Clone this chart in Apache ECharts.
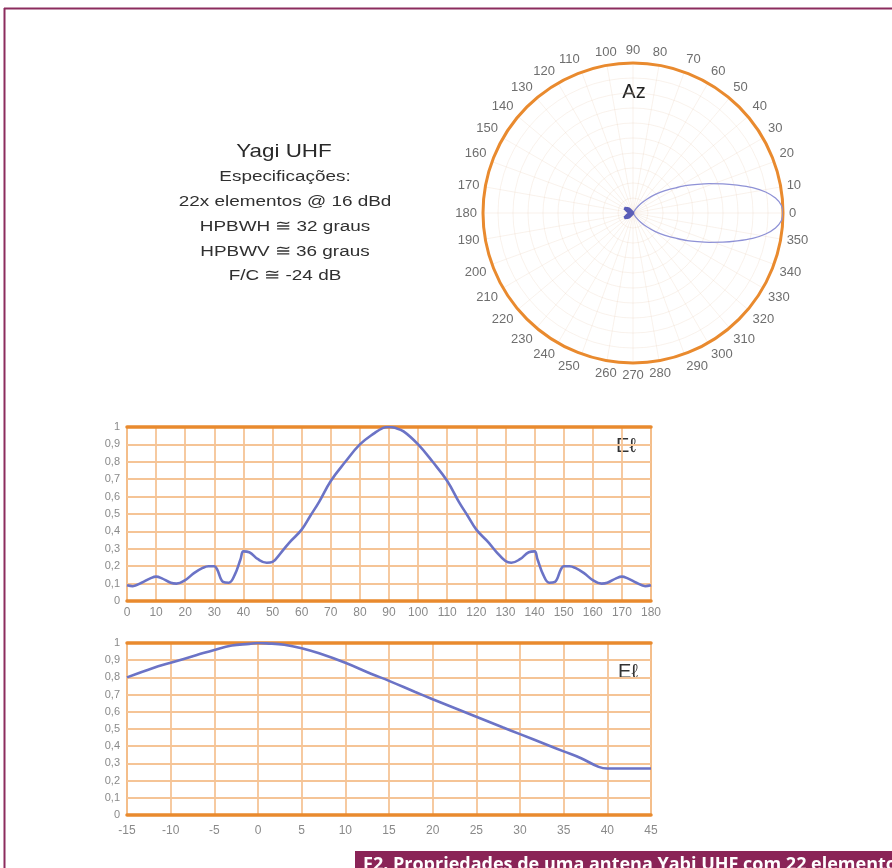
<!DOCTYPE html>
<html>
<head>
<meta charset="utf-8">
<script src="https://cdn.jsdelivr.net/npm/echarts@6/dist/echarts.min.js"></script>
<style>
  html, body { margin: 0; padding: 0; background: #ffffff; }
  #chart { width: 892px; height: 868px; }
</style>
</head>
<body>
<div id="chart"></div>
<script>
// Azimuth pattern: main lobe (angle in degrees, relative field strength)
const lobeAngle = [60, 55, 50, 45, 40, 35, 30, 27, 24, 21, 18, 15, 12, 9, 6, 3, 0,
                   357, 354, 351, 348, 345, 342, 339, 336, 333, 330, 325, 320, 315, 310, 305, 300];
const lobeGain  = [0, 0.035, 0.08, 0.13, 0.19, 0.26, 0.34, 0.405, 0.47, 0.545, 0.63, 0.72, 0.815, 0.895, 0.955, 0.99, 1.0,
                   0.99, 0.955, 0.895, 0.815, 0.72, 0.63, 0.545, 0.47, 0.405, 0.34, 0.26, 0.19, 0.13, 0.08, 0.035, 0];
// Azimuth pattern: back lobes
const backAngle = [120, 135, 150, 165, 180, 195, 210, 225, 240];
const backGain  = [0, 0.04, 0.065, 0.03, 0, 0.03, 0.065, 0.04, 0];

// Elevation pattern 0..180 degrees
const elevAngle = [0, 2, 5, 8, 10, 12, 15, 17, 20, 23, 26, 28, 30, 31, 33, 35, 37, 39, 40, 42, 45, 48, 50, 53, 56,
                   60, 63, 66, 70, 75, 80, 85, 88, 90, 92, 95, 100, 105, 110, 114, 117, 120, 124, 127, 130, 132,
                   135, 138, 140, 141, 143, 145, 147, 149, 150, 152, 154, 157, 160, 163, 165, 168, 170, 172, 175, 178, 180];
const elevGain  = [0.09, 0.085, 0.105, 0.13, 0.14, 0.13, 0.105, 0.10, 0.12, 0.16, 0.19, 0.20, 0.20, 0.18, 0.11, 0.105, 0.15, 0.24, 0.285, 0.28, 0.24, 0.22, 0.225, 0.28, 0.34,
                   0.41, 0.49, 0.57, 0.69, 0.80, 0.90, 0.965, 0.995, 1.0, 0.995, 0.975, 0.90, 0.80, 0.69, 0.57, 0.49, 0.41, 0.34, 0.28, 0.23, 0.22,
                   0.24, 0.28, 0.285, 0.24, 0.15, 0.105, 0.11, 0.18, 0.20, 0.20, 0.19, 0.16, 0.12, 0.10, 0.105, 0.13, 0.14, 0.13, 0.105, 0.085, 0.09];

// Vertical tilt pattern -15..45 degrees
const tiltAngle = [-15, -12, -10, -7, -5, -3, -1, 0, 1, 3, 5, 7, 10, 13, 15, 18, 20, 23, 25, 28, 30, 33, 35, 37, 39, 40, 42, 45];
const tiltGain  = [0.80, 0.855, 0.885, 0.93, 0.96, 0.985, 0.995, 1.0, 0.998, 0.99, 0.97, 0.94, 0.885, 0.82, 0.78, 0.715, 0.673,
                   0.612, 0.571, 0.51, 0.47, 0.41, 0.37, 0.33, 0.28, 0.27, 0.27, 0.27];

// Tick labels
const yTickLabels = ['0', '0,1', '0,2', '0,3', '0,4', '0,5', '0,6', '0,7', '0,8', '0,9', '1'];

// Specification lines
const specTitle = 'Yagi UHF';
const specLines = ['Especificações:', '22x elementos @ 16 dBd', 'HPBWH ≅ 32 graus', 'HPBWV ≅ 36 graus', 'F/C ≅ -24 dB'];
const captionText = 'F2. Propriedades de uma antena Yabi UHF com 22 elementos';

const ORANGE = '#e98a2e';
const GRIDLINE = '#f5c496';
const LINE = '#6b73c6';
const LABEL = '#8a8a8a';
const FONT = '"Liberation Sans", Arial, sans-serif';
const POLAR_GRID = 'rgba(232,205,180,0.26)';

const chart = echarts.init(document.getElementById('chart'), null, { renderer: 'canvas' });

function pairs(xs, ys) { return xs.map((x, i) => [x, ys[i]]); }
function polarPairs(angles, gains) { return angles.map((a, i) => [gains[i], a]); }

const yAxisCommon = {
  type: 'value', min: 0, max: 1, interval: 0.1,
  axisLine: { show: false }, axisTick: { show: false },
  axisLabel: { color: LABEL, fontSize: 11, fontFamily: FONT, margin: 7,
               formatter: (v, i) => yTickLabels[i] },
  splitLine: { show: true, lineStyle: { color: GRIDLINE, width: 1.8 } }
};

const graphics = [
  // page frame
  { type: 'line', shape: { x1: 4, y1: 8.5, x2: 892, y2: 8.5 }, style: { stroke: '#8c2c5e', lineWidth: 2 } },
  { type: 'line', shape: { x1: 4.5, y1: 8, x2: 4.5, y2: 868 }, style: { stroke: '#8c2c5e', lineWidth: 2 } },
  // caption bar
  { type: 'rect', shape: { x: 355, y: 851, width: 540, height: 20 }, style: { fill: '#8a2457' } },
  { type: 'text', x: 363, y: 856, style: { text: captionText, fill: '#ffffff', fontSize: 18, fontWeight: 'bold',
      fontFamily: '"Open Sans", sans-serif', align: 'left', verticalAlign: 'top' } },
  // specification block
  { type: 'text', x: 284, y: 152, scaleX: 1.18, style: { text: specTitle, fill: '#2a2a2a', fontSize: 19, fontFamily: FONT,
      align: 'center', verticalAlign: 'middle' } },
  // polar label
  { type: 'text', x: 634, y: 92, style: { text: 'Az', fill: '#222222', fontSize: 20, fontFamily: FONT,
      align: 'center', verticalAlign: 'middle' } },
  // elevation labels
  { type: 'text', x: 626, y: 446, style: { text: 'Eℓ', fill: '#333333', fontSize: 20, fontFamily: FONT,
      align: 'center', verticalAlign: 'middle' } },
  { type: 'text', x: 628, y: 672, style: { text: 'Eℓ', fill: '#333333', fontSize: 20, fontFamily: FONT,
      align: 'center', verticalAlign: 'middle' } }
];
specLines.forEach((t, i) => {
  graphics.push({ type: 'text', x: 285, y: 177 + i * 24.8, scaleX: 1.22,
    style: { text: t, fill: '#303030', fontSize: 15.5, fontFamily: FONT, align: 'center', verticalAlign: 'middle' } });
});

const option = {
  backgroundColor: '#ffffff',
  animation: false,
  polar: { center: [633, 213], radius: 150 },
  angleAxis: {
    type: 'value', min: 0, max: 360, interval: 10, startAngle: 0, clockwise: false,
    axisLine: { show: true, lineStyle: { color: ORANGE, width: 3 } },
    axisTick: { show: false },
    axisLabel: { color: '#6e6e6e', fontSize: 13, fontFamily: FONT, margin: 6,
                 formatter: v => (v === 360 ? '' : String(v)) },
    splitLine: { show: true, lineStyle: { color: POLAR_GRID, width: 1 } }
  },
  radiusAxis: {
    type: 'value', min: 0, max: 1, interval: 0.1,
    axisLine: { show: false }, axisTick: { show: false }, axisLabel: { show: false },
    splitLine: { show: true, lineStyle: { color: POLAR_GRID, width: 1 } }
  },
  grid: [
    { left: 127, top: 427, width: 524, height: 174, show: true, borderColor: ORANGE, borderWidth: 2 },
    { left: 127, top: 643, width: 524, height: 172, show: true, borderColor: ORANGE, borderWidth: 2 }
  ],
  xAxis: [
    { gridIndex: 0, type: 'value', min: 0, max: 180, interval: 10,
      axisLine: { show: true, lineStyle: { color: ORANGE, width: 3.5 } }, axisTick: { show: false },
      axisLabel: { color: LABEL, fontSize: 12, fontFamily: FONT, margin: 6 },
      splitLine: { show: true, lineStyle: { color: GRIDLINE, width: 1.8 } } },
    { gridIndex: 0, type: 'value', min: 0, max: 180, position: 'top',
      axisLine: { show: true, lineStyle: { color: ORANGE, width: 3.5 } }, axisTick: { show: false },
      axisLabel: { show: false }, splitLine: { show: false } },
    { gridIndex: 1, type: 'value', min: -15, max: 45, interval: 5,
      axisLine: { show: true, onZero: false, lineStyle: { color: ORANGE, width: 3.5 } }, axisTick: { show: false },
      axisLabel: { color: LABEL, fontSize: 12, fontFamily: FONT, margin: 10 },
      splitLine: { show: true, lineStyle: { color: GRIDLINE, width: 1.8 } } },
    { gridIndex: 1, type: 'value', min: -15, max: 45, position: 'top',
      axisLine: { show: true, onZero: false, lineStyle: { color: ORANGE, width: 3.5 } }, axisTick: { show: false },
      axisLabel: { show: false }, splitLine: { show: false } }
  ],
  yAxis: [
    Object.assign({ gridIndex: 0 }, yAxisCommon),
    Object.assign({ gridIndex: 1 }, yAxisCommon)
  ],
  series: [
    { type: 'line', coordinateSystem: 'polar', data: polarPairs(lobeAngle, lobeGain), smooth: 0.3,
      showSymbol: false, lineStyle: { color: '#8f92d6', width: 1.3 } },
    { type: 'line', coordinateSystem: 'polar', data: polarPairs(backAngle, backGain), smooth: 0.2,
      showSymbol: false, lineStyle: { color: '#5a5db8', width: 3 } },
    { type: 'line', xAxisIndex: 0, yAxisIndex: 0, data: pairs(elevAngle, elevGain), smooth: 0.4,
      showSymbol: false, lineStyle: { color: LINE, width: 2.6 }, z: 5 },
    { type: 'line', xAxisIndex: 2, yAxisIndex: 1, data: pairs(tiltAngle, tiltGain), smooth: 0.4,
      showSymbol: false, lineStyle: { color: LINE, width: 2.6 }, z: 5 }
  ],
  graphic: graphics
};

chart.setOption(option);
</script>
</body>
</html>
